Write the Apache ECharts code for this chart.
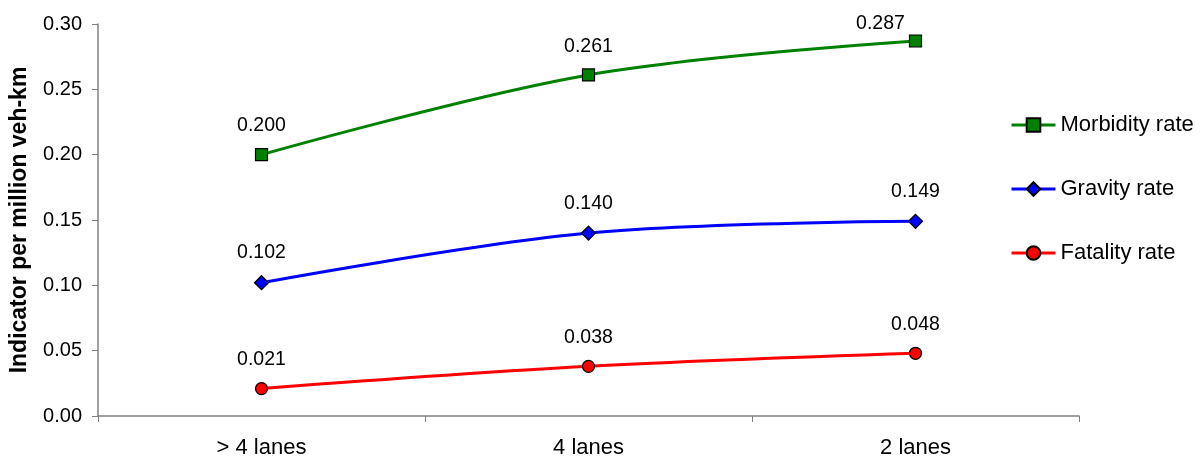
<!DOCTYPE html>
<html>
<head>
<meta charset="utf-8">
<script src="https://cdn.jsdelivr.net/npm/echarts@6/dist/echarts.min.js"></script>
<style>
  html, body { margin: 0; padding: 0; background: #fff; }
  #chart { width: 1200px; height: 460px; }
</style>
</head>
<body>
<div id="chart"></div>
<script>
// Road categories and accident indicators (per million vehicle-km)
const categories = ['> 4 lanes', '4 lanes', '2 lanes'];
const morbidity = [0.200, 0.261, 0.287];
const gravity = [0.102, 0.140, 0.149];
const fatality = [0.021, 0.038, 0.048];
const seriesNames = ['Morbidity rate', 'Gravity rate', 'Fatality rate'];

const FONT = 'Liberation Sans, Arial, sans-serif';

function valueLabel(extra) {
  return Object.assign({
    show: true,
    position: 'top',
    distance: 12,
    color: '#000',
    fontFamily: FONT,
    fontSize: 19.5,
    formatter: p => p.value.toFixed(3)
  }, extra || {});
}

function lineSeries(name, values, color, symbol, size) {
  return {
    name: name,
    type: 'line',
    data: values,
    smooth: 0.35,
    symbol: symbol,
    symbolSize: size,
    showAllSymbol: true,
    lineStyle: { color: color, width: 3 },
    itemStyle: { color: color, borderColor: '#000', borderWidth: 1.2 },
    label: valueLabel(),
    emphasis: { disabled: true },
    z: 3
  };
}

const seriesList = [
  lineSeries(seriesNames[0], morbidity, '#008000', 'rect', 12),
  lineSeries(seriesNames[1], gravity, '#0000ff', 'diamond', 14),
  lineSeries(seriesNames[2], fatality, '#ff0000', 'circle', 12)
];
// last morbidity label sits up-left of its point
seriesList[0].data = morbidity.map((v, i) => i === 2
  ? { value: v, label: { offset: [-35, 11] } }
  : v);

const chart = echarts.init(document.getElementById('chart'));
chart.setOption({
  animation: false,
  backgroundColor: '#fff',
  grid: { left: 98, right: 121, top: 24, bottom: 44, containLabel: false },
  legend: {
    orient: 'vertical',
    left: 1005,
    top: 109,
    itemGap: 42,
    itemWidth: 44,
    itemHeight: 17,
    data: seriesNames,
    lineStyle: { width: 3 },
    textStyle: { fontFamily: FONT, fontSize: 22, color: '#000' },
    selectedMode: false
  },
  xAxis: {
    type: 'category',
    data: categories,
    boundaryGap: true,
    axisLine: { lineStyle: { color: '#808080', width: 1.5 } },
    axisTick: { show: true, alignWithLabel: false, length: 6, lineStyle: { color: '#808080' } },
    axisLabel: { color: '#000', fontFamily: FONT, fontSize: 22, margin: 21 }
  },
  yAxis: {
    type: 'value',
    min: 0,
    max: 0.3,
    interval: 0.05,
    name: 'Indicator per million veh-km',
    nameLocation: 'middle',
    nameGap: 67,
    nameTextStyle: { fontFamily: FONT, fontSize: 23, fontWeight: 'bold', color: '#000' },
    splitLine: { show: false },
    axisLine: { show: true, lineStyle: { color: '#808080', width: 1.5 } },
    axisTick: { show: true, length: 6, lineStyle: { color: '#808080' } },
    axisLabel: { color: '#000', fontFamily: FONT, fontSize: 20, margin: 16, formatter: v => v.toFixed(2) }
  },
  series: seriesList
});
</script>
</body>
</html>
